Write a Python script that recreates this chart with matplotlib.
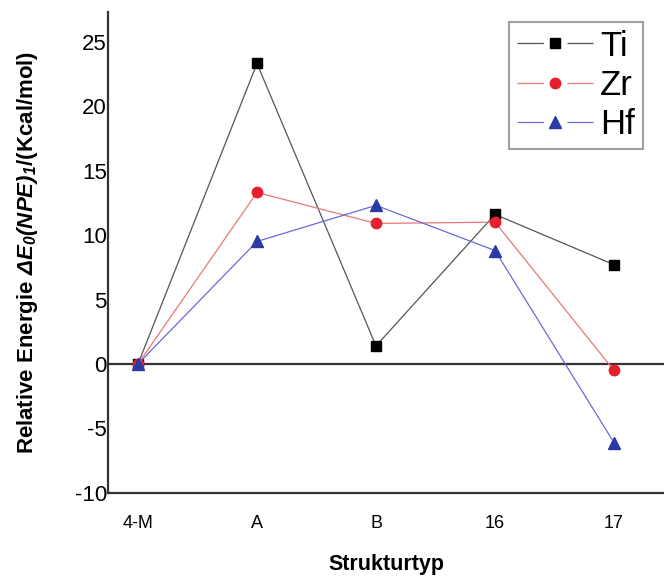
import matplotlib
matplotlib.use("Agg")
import matplotlib.pyplot as plt

categories = ["4-M", "A", "B", "16", "17"]
ti = [0.0, 23.3, 1.4, 11.6, 7.7]
zr = [0.0, 13.3, 10.9, 11.0, -0.5]
hf = [0.0, 9.5, 12.3, 8.8, -6.1]
yticks = [-10, -5, 0, 5, 10, 15, 20, 25]

plt.rcParams['font.family'] = ['Liberation Sans', 'DejaVu Sans']
plt.rcParams['mathtext.fontset'] = 'custom'
plt.rcParams['mathtext.rm'] = 'Liberation Sans'
plt.rcParams['mathtext.it'] = 'Liberation Sans:italic'
plt.rcParams['mathtext.bf'] = 'Liberation Sans:bold'
plt.rcParams['mathtext.bfit'] = 'Liberation Sans:bold:italic'
plt.rcParams['lines.scale_dashes'] = False

fig = plt.figure(figsize=(6.64, 5.81), dpi=100)
ax = fig.add_axes([0.163, 0.1515, 0.837, 0.828])

x = list(range(len(categories)))
ax.plot(x, ti, color='#555555', lw=0.9, marker='s', ms=6.5, mfc='black', mec='black', label='Ti', zorder=3)
ax.plot(x, zr, color='#e87878', lw=0.9, marker='o', ms=7.5, mfc='#e5202a', mec='#e5202a', label='Zr', zorder=3)
ax.plot(x, hf, color='#6a6ad8', lw=0.9, marker='^', ms=8, mfc='#2b3aa6', mec='#2b3aa6', label='Hf', zorder=3)

ax.axhline(0, color='#333333', lw=1.6, zorder=2)

ax.set_xlim(-0.25, 4.42)
ax.set_ylim(-10, 27.3)
ax.set_xticks(x)
ax.set_xticklabels(categories, fontsize=13)
ax.set_yticks(yticks)
ax.set_yticklabels([str(v) for v in yticks], fontsize=16)
ax.tick_params(axis='both', length=0)
ax.tick_params(axis='x', pad=16)
ax.tick_params(axis='y', pad=1)

for s in ['top', 'right']:
    ax.spines[s].set_visible(False)
for s in ['left', 'bottom']:
    ax.spines[s].set_color('#333333')
    ax.spines[s].set_linewidth(1.6)

ax.set_xlabel('Strukturtyp', fontsize=15.5, fontweight='bold', labelpad=16)
ax.set_ylabel(r'Relative Energie $\mathbfit{\Delta E_0(NPE)_1}$/(Kcal/mol)',
              fontsize=16, fontweight='bold', labelpad=25)

leg = ax.legend(loc='upper right', bbox_to_anchor=(0.962, 0.979), fontsize=25,
                frameon=True, fancybox=False, edgecolor='#888888', numpoints=1,
                handlelength=2.2, handletextpad=0.2, labelspacing=0.18,
                borderpad=0.22, borderaxespad=0)
leg.get_frame().set_linewidth(1.5)
for ln in leg.get_lines():
    ln.set_linestyle((0, (19.0, 17.0, 19.0, 100)))

fig.savefig('out.png', dpi=100)
